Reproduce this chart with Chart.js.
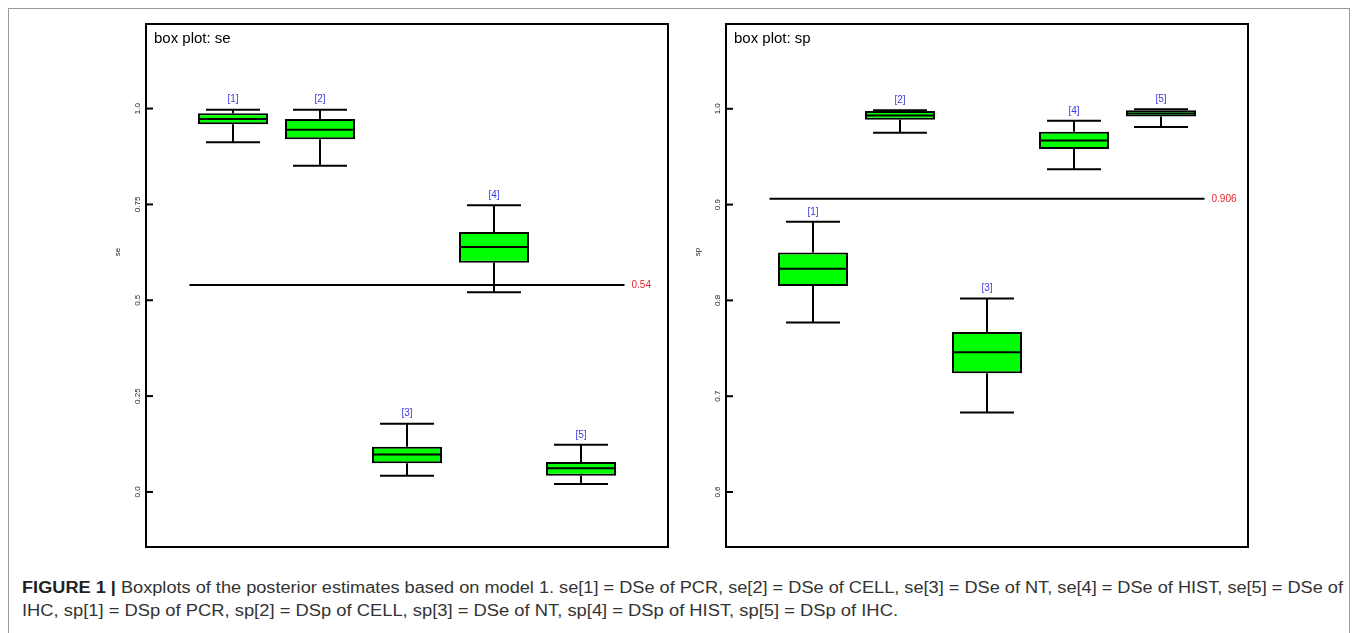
<!DOCTYPE html>
<html>
<head>
<meta charset="utf-8">
<script src="https://cdn.jsdelivr.net/npm/chart.js@4.4.1/dist/chart.umd.min.js"></script>
<style>
  html, body { margin: 0; padding: 0; background: #fff; overflow: hidden; width: 1358px; height: 633px; }
  #frame { position: absolute; left: 8px; top: 8px; width: 1340px; height: 700px; border: 1px solid #9a9a9a; }
  #seChart { position: absolute; left: 0; top: 0; }
  #spChart { position: absolute; left: 690px; top: 0; }
  .cap { position: absolute; left: 22px; white-space: nowrap; font-family: "Liberation Sans Narrow", "Liberation Sans", Arial, sans-serif;
         font-size: 16px; line-height: 18px; color: #333; transform-origin: 0 0; }
  .cap b { color: #222; }
</style>
</head>
<body>
<div id="frame"></div>
<canvas id="seChart" width="690" height="560"></canvas>
<canvas id="spChart" width="668" height="560"></canvas>
<div class="cap" id="cap1" style="top:579px"><b>FIGURE 1 |</b> Boxplots of the posterior estimates based on model 1. se[1] = DSe of PCR, se[2] = DSe of CELL, se[3] = DSe of NT, se[4] = DSe of HIST, se[5] = DSe of</div>
<div class="cap" id="cap2" style="top:602px">IHC, sp[1] = DSp of PCR, sp[2] = DSp of CELL, sp[3] = DSe of NT, sp[4] = DSp of HIST, sp[5] = DSp of IHC.</div>
<script>
// box positions and labels (shared by both panels)
const boxPositions = [1, 2, 3, 4, 5];
const boxLabels = ["[1]", "[2]", "[3]", "[4]", "[5]"];

// se panel
const seLow    = [0.912, 0.851, 0.042, 0.521, 0.021];
const seQ1     = [0.959, 0.920, 0.075, 0.598, 0.042];
const seMedian = [0.973, 0.945, 0.098, 0.639, 0.062];
const seQ3     = [0.988, 0.973, 0.118, 0.678, 0.078];
const seHigh   = [0.997, 0.997, 0.178, 0.748, 0.123];
const seCutoff = 0.54;
const seTicks = [0, 0.25, 0.5, 0.75, 1];
const seTickLabels = ["0.0", "0.25", "0.5", "0.75", "1.0"];

// sp panel
const spLow    = [0.777, 0.975, 0.683, 0.937, 0.981];
const spQ1     = [0.815, 0.9885, 0.724, 0.958, 0.992];
const spMedian = [0.833, 0.993, 0.746, 0.967, 0.995];
const spQ3     = [0.850, 0.9976, 0.767, 0.976, 0.9986];
const spHigh   = [0.882, 0.9986, 0.802, 0.9875, 0.9995];
const spCutoff = 0.906;
const spTicks = [0.6, 0.7, 0.8, 0.9, 1.0];
const spTickLabels = ["0.6", "0.7", "0.8", "0.9", "1.0"];

const boxPlugin = {
  id: "boxExtras",
  afterDatasetsDraw(chart, args, o) {
    const ctx = chart.ctx;
    const xs = chart.scales.x, ys = chart.scales.y;
    const area = chart.chartArea;
    const bars = chart.getDatasetMeta(0).data;
    ctx.save();
    ctx.strokeStyle = "#000";
    ctx.lineWidth = 2;
    ctx.lineCap = "butt";

    boxPositions.forEach((pos, i) => {
      const x = xs.getPixelForValue(pos);
      const half = xs.getPixelForValue(pos + 0.31) - x;
      const yLow = ys.getPixelForValue(o.low[i]);
      const yHigh = ys.getPixelForValue(o.high[i]);
      const yQ1 = ys.getPixelForValue(o.q1[i]);
      const yQ3 = ys.getPixelForValue(o.q3[i]);
      const yMed = ys.getPixelForValue(o.median[i]);
      ctx.beginPath();
      ctx.moveTo(x, yHigh); ctx.lineTo(x, yQ3);
      ctx.moveTo(x, yQ1); ctx.lineTo(x, yLow);
      ctx.moveTo(x - half, yHigh); ctx.lineTo(x + half, yHigh);
      ctx.moveTo(x - half, yLow); ctx.lineTo(x + half, yLow);
      const bar = bars[i];
      ctx.moveTo(bar.x - bar.width / 2, yMed); ctx.lineTo(bar.x + bar.width / 2, yMed);
      ctx.stroke();

      ctx.fillStyle = "#3c3cdc";
      ctx.font = "10px 'Liberation Sans', Arial, sans-serif";
      ctx.textAlign = "center";
      ctx.textBaseline = "middle";
      ctx.fillText(boxLabels[i], x, yHigh - 10);
    });

    // cutoff label
    ctx.fillStyle = "#e8232a";
    ctx.font = "10px 'Liberation Sans', Arial, sans-serif";
    ctx.textAlign = "left";
    ctx.textBaseline = "middle";
    ctx.fillText(String(o.cutoff), xs.getPixelForValue(5.5) + 7, ys.getPixelForValue(o.cutoff));

    // frame
    ctx.strokeRect(area.left, area.top, area.right - area.left, area.bottom - area.top);

    // inward ticks and rotated labels
    ctx.fillStyle = "#222";
    ctx.font = "8px 'Liberation Sans', Arial, sans-serif";
    ctx.textAlign = "center";
    ctx.textBaseline = "middle";
    ys.ticks.forEach((t, i) => {
      const y = ys.getPixelForValue(t.value);
      ctx.beginPath();
      ctx.moveTo(area.left, y); ctx.lineTo(area.left + 7, y);
      ctx.stroke();
      ctx.save();
      ctx.translate(area.left - 8, y);
      ctx.rotate(-Math.PI / 2);
      ctx.fillText(o.tickLabels[i], 0, 0);
      ctx.restore();
    });

    // axis title
    ctx.save();
    ctx.translate(area.left - 28, area.top + 228);
    ctx.rotate(-Math.PI / 2);
    ctx.fillText(o.axisTitle, 0, 0);
    ctx.restore();

    // panel title
    ctx.fillStyle = "#000";
    ctx.font = "15px 'Liberation Sans', Arial, sans-serif";
    ctx.textAlign = "left";
    ctx.textBaseline = "alphabetic";
    ctx.fillText(o.title, area.left + 8, area.top + 19);
    ctx.restore();
  }
};

function makeBoxChart(id, s) {
  return new Chart(document.getElementById(id), {
    type: "bar",
    data: {
      datasets: [
        {
          label: s.axisTitle,
          data: boxPositions.map((x, i) => ({ x: x, y: [s.q1[i], s.q3[i]] })),
          backgroundColor: "#00ff00",
          borderColor: "#000",
          borderWidth: 2,
          borderSkipped: false,
          barPercentage: 0.805,
          categoryPercentage: 1,
        },
        {
          type: "line",
          label: "cutoff",
          data: [{ x: 0.5, y: s.cutoff }, { x: 5.5, y: s.cutoff }],
          borderColor: "#000",
          borderWidth: 2,
          pointRadius: 0,
        },
      ],
    },
    options: {
      responsive: false,
      animation: false,
      layout: { padding: s.padding },
      plugins: {
        legend: { display: false },
        tooltip: { enabled: false },
        boxExtras: s,
      },
      scales: {
        x: { type: "linear", min: 0, max: 6, offset: false, display: false },
        y: {
          min: s.yMin, max: s.yMax, display: false,
          afterBuildTicks: (scale) => { scale.ticks = s.ticks.map(v => ({ value: v })); },
        },
      },
    },
    plugins: [boxPlugin],
  });
}

makeBoxChart("seChart", {
  low: seLow, q1: seQ1, median: seMedian, q3: seQ3, high: seHigh,
  cutoff: seCutoff, ticks: seTicks, tickLabels: seTickLabels,
  yMin: -0.1436, yMax: 1.2206,
  title: "box plot: se", axisTitle: "se",
  padding: { left: 146, top: 24, right: 22, bottom: 13 },
});

makeBoxChart("spChart", {
  low: spLow, q1: spQ1, median: spMedian, q3: spQ3, high: spHigh,
  cutoff: spCutoff, ticks: spTicks, tickLabels: spTickLabels,
  yMin: 0.5426, yMax: 1.0885,
  title: "box plot: sp", axisTitle: "sp",
  padding: { left: 36, top: 24, right: 110, bottom: 13 },
});

function fitCaption(id, target) {
  const el = document.getElementById(id);
  const w = el.getBoundingClientRect().width;
  el.style.transform = "scaleX(" + (target / w) + ")";
}
fitCaption("cap1", 1321);
fitCaption("cap2", 876);
</script>
</body>
</html>
